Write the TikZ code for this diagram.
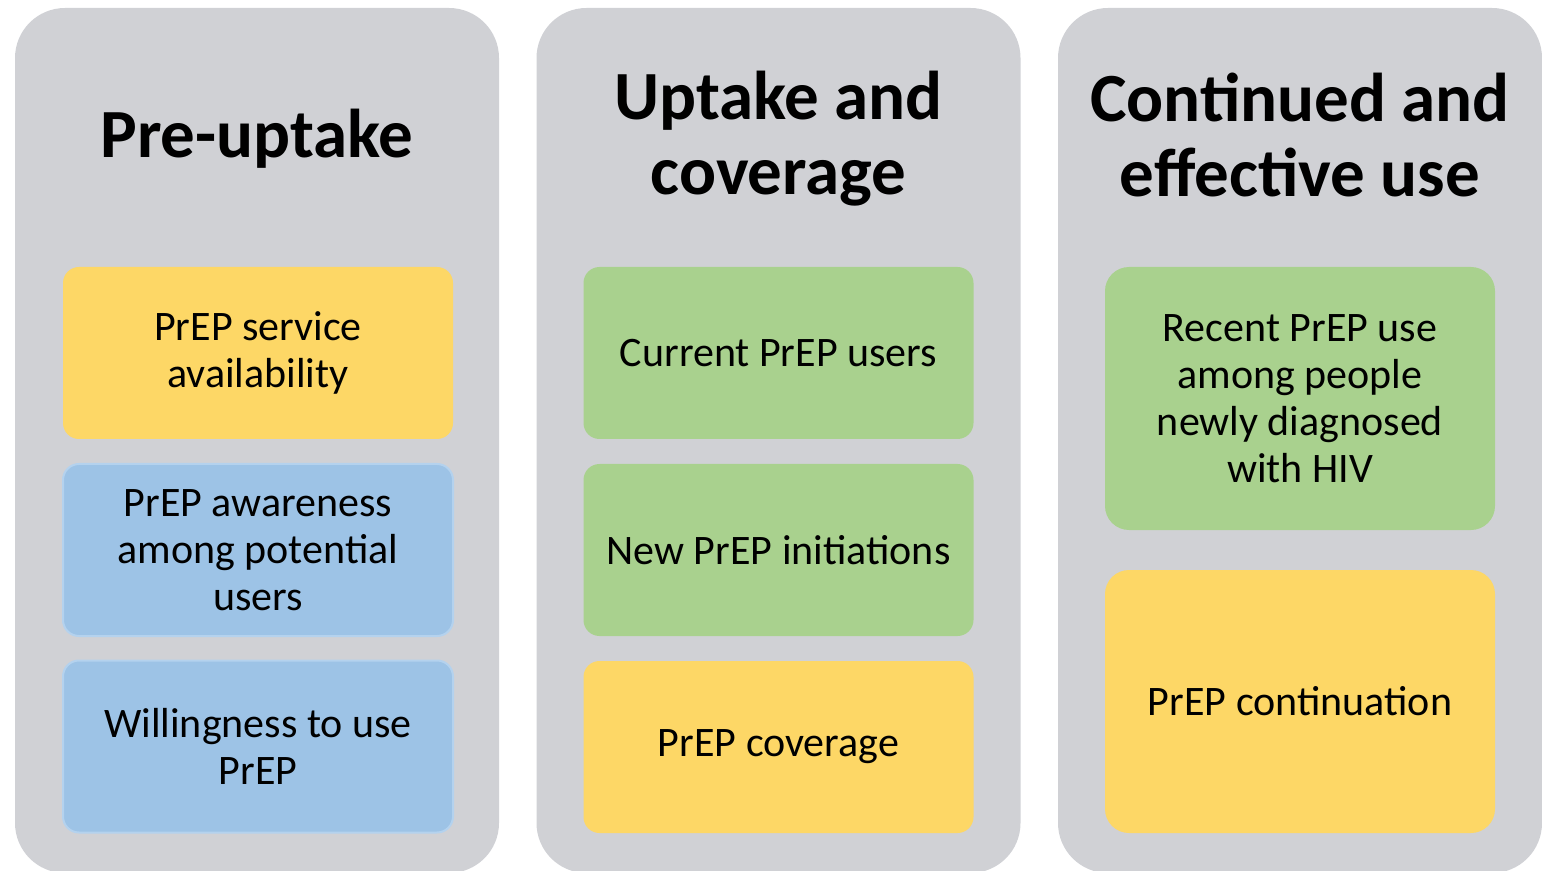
\documentclass[tikz,border=0pt]{standalone}
\usepackage{fontspec}
\setmainfont{Carlito}
\usetikzlibrary{shapes}
\definecolor{colgrey}{HTML}{D0D1D5}
\definecolor{goldbox}{HTML}{FDD766}
\definecolor{bluebox}{HTML}{9DC3E6}
\definecolor{blueline}{HTML}{B4D2EE}
\definecolor{greenbox}{HTML}{A9D18E}
\tikzset{
  stage/.style={
    fill=colgrey, rounded corners=25pt,
    minimum width=242pt, minimum height=432.5pt, inner sep=0pt,
  },
  stagetitle/.style={
    font=\fontsize{34.5pt}{37.5pt}\selectfont\bfseries, align=center,
  },
  measure/.style={
    rounded corners=8pt, minimum width=195pt, minimum height=86pt,
    inner sep=0pt, align=center,
    font=\fontsize{21pt}{23.5pt}\selectfont,
  },
  gold/.style={measure, fill=goldbox},
  blue/.style={measure, fill=bluebox, draw=blueline, line width=1pt},
  green/.style={measure, fill=greenbox},
  tall/.style={minimum height=131.5pt, rounded corners=12pt},
}

\begin{document}
\begin{tikzpicture}[x=0.5pt, y=-0.5pt]
\useasboundingbox (0,0) rectangle (1542,871);
% the three stages
\node [stage] (pre) at (257,440.5) {};
\node [stage] (upt) at (778.5,440.5) {};
\node [stage] (con) at (1300,440.5) {};
\node [stagetitle] (preT) at (257,139) {Pre-uptake};
\node [stagetitle] (uptT) at (778.5,139) {Uptake and\\coverage};
\node [stagetitle] (conT) at (1300,135) {Continued and\\effective use};
% pre-uptake
\node [gold] (avail) at (258,353) {PrEP service\\availability};
\node [blue] (aware) at (258,550) {PrEP awareness\\among potential\\users};
\node [blue] (willing) at (258,746.5) {Willingness to use\\PrEP};
% uptake and coverage
\node [green] (current) at (778.5,353) {Current PrEP users};
\node [green] (initiat) at (778.5,550) {New PrEP initiations};
\node [gold] (cover) at (778.5,747) {PrEP coverage};
% continued and effective use
\node [green, tall] (recent) at (1300,398.5) {Recent PrEP use\\among people\\newly diagnosed\\with HIV};
\node [gold, tall] (contin) at (1300,701.5) {PrEP continuation};
\end{tikzpicture}
\end{document}
